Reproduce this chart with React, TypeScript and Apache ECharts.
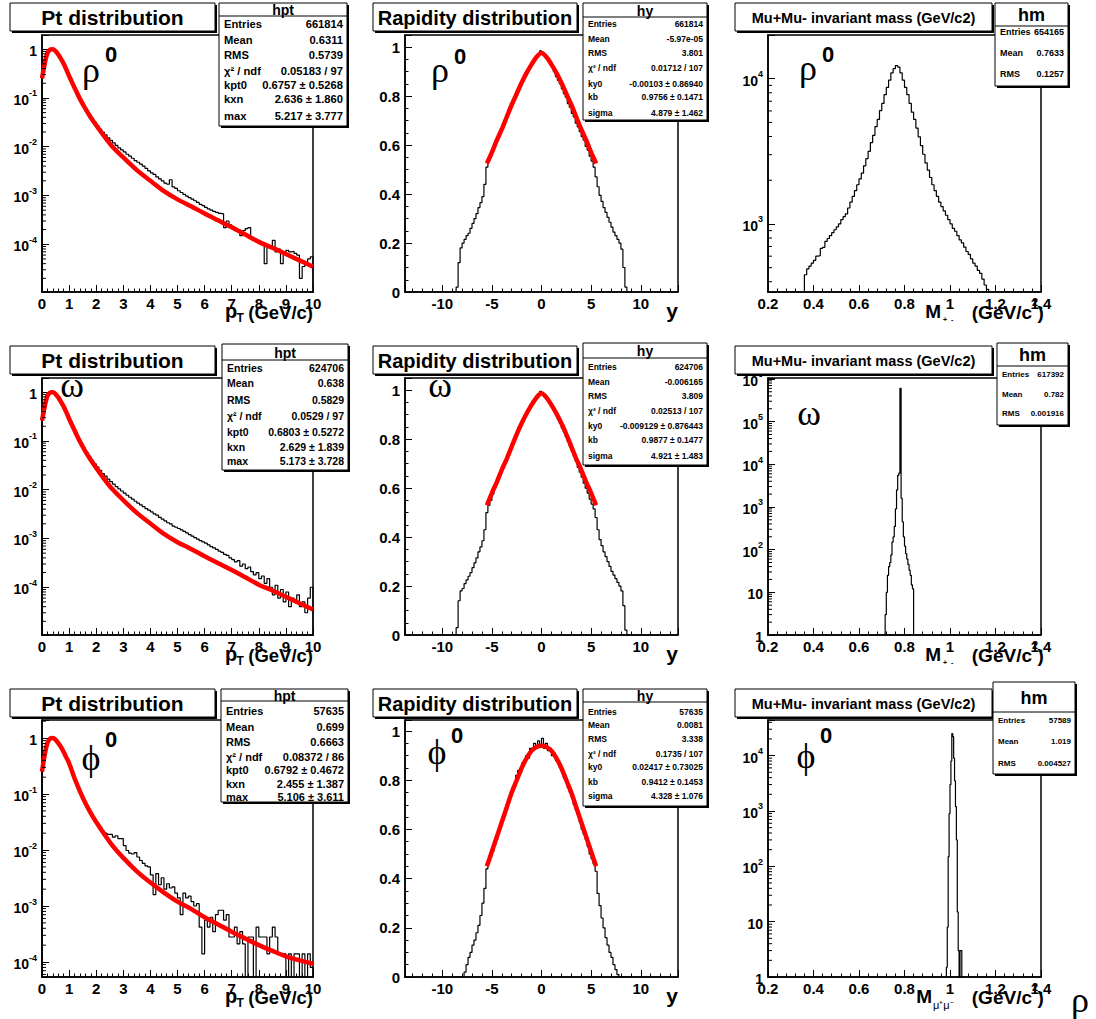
import React, { useEffect, useRef } from 'react';
import * as echarts from 'echarts';

const SANS = '"Liberation Sans", Arial, Helvetica, sans-serif';
const SERIF = '"Liberation Serif", "Times New Roman", serif';

// ---------------- DATA ----------------
// pT histograms: 100 bins of 0.1 GeV/c from 0 to 10 (normalised to peak)
const PT_START = 0;
const PT_WIDTH = 0.1;
const ptHistRho = [
  0.37, 0.66, 0.91, 1.0, 0.97, 0.85, 0.71, 0.57, 0.45, 0.335,
  0.25, 0.19, 0.145, 0.11, 0.088, 0.07, 0.056, 0.046, 0.038, 0.032,
  0.027, 0.023, 0.02, 0.0175, 0.0152, 0.0135, 0.012, 0.0106, 0.0095, 0.0086,
  0.0078, 0.007, 0.0064, 0.0058, 0.0052, 0.0048, 0.0044, 0.004, 0.0036, 0.0032,
  0.0029, 0.0027, 0.0024, 0.0022, 0.002, 0.0018, 0.0017, 0.0021, 0.0015, 0.0014,
  0.00125, 0.00115, 0.00105, 0.00097, 0.0009, 0.00084, 0.00078, 0.00072, 0.00066, 0.00062,
  0.00057, 0.00053, 0.0005, 0.00047, 0.00045, 0.00043, 0.00042, 0.00022, 0.0003, 0.00025,
  0.00021, 0.00019, 0.0002, 0.00015, 0.00019, 0.00021, 0.00022, 0.00014, 0.00013, 0.00012,
  0.000105, 0.0001, 0.00004, 0.00009, 0.000085, 0.00012, 0.00007, 0.00008, 0.00004, 0.00007,
  0.000075, 0.00007, 0.000072, 0.000065, 0.00006, 0.00002, 0.000035, 0.000038, 0.00005, 0.000055,
];
const ptHistOmega = [
  0.38, 0.67, 0.92, 1.0, 0.97, 0.86, 0.72, 0.58, 0.455, 0.34,
  0.255, 0.195, 0.148, 0.113, 0.09, 0.072, 0.058, 0.048, 0.04, 0.034,
  0.029, 0.025, 0.0215, 0.019, 0.0165, 0.0147, 0.013, 0.0116, 0.0104, 0.0094,
  0.0085, 0.0077, 0.007, 0.0064, 0.0058, 0.0053, 0.0049, 0.0045, 0.0041, 0.0038,
  0.0035, 0.0032, 0.003, 0.0027, 0.0025, 0.0023, 0.0021, 0.002, 0.0018, 0.0017,
  0.0016, 0.0015, 0.0014, 0.0013, 0.0012, 0.00112, 0.00104, 0.00097, 0.0009, 0.00085,
  0.0008, 0.00074, 0.00068, 0.00064, 0.0006, 0.00055, 0.00052, 0.00047, 0.00045, 0.0004,
  0.00037, 0.00033, 0.00035, 0.00027, 0.0003, 0.00024, 0.00026, 0.00021, 0.00018, 0.0002,
  0.00015, 0.00017, 0.00012, 0.00015, 0.0001, 0.00007, 0.00011, 0.00006, 0.00009, 0.00005,
  0.00008, 0.00004, 0.00006, 0.00005, 0.00007, 0.00004, 0.00005, 0.00003, 0.00006, 0.0001,
];
const ptHistPhi = [
  0.4, 0.7, 0.93, 1.0, 0.98, 0.88, 0.76, 0.63, 0.51, 0.4,
  0.31, 0.23, 0.17, 0.13, 0.1, 0.078, 0.061, 0.05, 0.042, 0.035,
  0.03, 0.026, 0.022, 0.02, 0.019, 0.019, 0.017, 0.018, 0.016, 0.016,
  0.012, 0.0098, 0.0088, 0.0085, 0.009, 0.0075, 0.0065, 0.0058, 0.0052, 0.005,
  0.0036, 0.0016, 0.0038, 0.0024, 0.0032, 0.002, 0.0025, 0.0021, 0.0022, 0.0017,
  0.0014, 0.0007, 0.0017, 0.0014, 0.0015, 0.0012, 0.001, 0.0011, 0.00042, 0.00014,
  0.00056, 0.00042, 0.00063, 0.00035, 0.0007, 0.00084, 0.00084, 0.00056, 0.0007, 0.00028,
  0.00028, 0.00042, 0.00021, 0.00035, 0.00021, 0, 0.00028, 0.00028, 0, 0.00042,
  0.00028, 0.00028, 0.00028, 0.00014, 0.00028, 0.00042, 0.00028, 0.00014, 0.00014, 0.00014,
  0, 0.00014, 0, 0.00014, 0.00014, 0, 0.00014, 0, 0.00014, 0.00008,
];
// pT fit curves
const ptFitX = [0, 0.1, 0.2, 0.3, 0.4, 0.5, 0.6, 0.7, 0.8, 0.9, 1.0, 1.2, 1.4, 1.6, 1.8, 2.0, 2.3, 2.6, 3.0, 3.5, 4.0, 4.5, 5.0, 5.5, 6.0, 6.5, 7.0, 7.5, 8.0, 8.5, 9.0, 9.5, 10];
const ptFitRho = [0.251, 0.501, 0.832, 0.977, 1.0, 0.912, 0.776, 0.631, 0.501, 0.38, 0.282, 0.162, 0.0955, 0.0603, 0.0398, 0.0275, 0.0162, 0.01, 0.00603, 0.00331, 0.002, 0.00123, 0.000832, 0.000603, 0.000427, 0.000309, 0.000224, 0.000158, 0.000112, 0.0000851, 0.0000631, 0.0000468, 0.0000347];
const ptFitOmega = [0.26, 0.51, 0.84, 0.98, 1.0, 0.915, 0.78, 0.635, 0.505, 0.385, 0.285, 0.165, 0.097, 0.061, 0.0405, 0.028, 0.0165, 0.0102, 0.0061, 0.00335, 0.00202, 0.00124, 0.00084, 0.00061, 0.00043, 0.00031, 0.000225, 0.00016, 0.000113, 0.000086, 0.000064, 0.000047, 0.000035];
const ptFitPhi = [0.251, 0.501, 0.813, 0.977, 1.0, 0.933, 0.813, 0.692, 0.562, 0.447, 0.355, 0.191, 0.112, 0.0692, 0.0457, 0.0316, 0.0191, 0.012, 0.00724, 0.00417, 0.00263, 0.00174, 0.0012, 0.000891, 0.000631, 0.000468, 0.000347, 0.000263, 0.0002, 0.000158, 0.000126, 0.000107, 0.0000933];

// rapidity histograms: 88 bins of 0.2 from -8.8 to 8.8
const Y_START = -8.8;
const Y_WIDTH = 0.2;
const yHistRho = [
  0.0, 0.02, 0.12, 0.18, 0.2, 0.215, 0.23, 0.24, 0.26, 0.28, 0.3, 0.32, 0.345, 0.365, 0.39, 0.44,
  0.51, 0.535, 0.555, 0.58, 0.6, 0.62, 0.64, 0.655, 0.675, 0.695, 0.715, 0.735, 0.755, 0.775,
  0.79, 0.81, 0.83, 0.845, 0.865, 0.88, 0.895, 0.91, 0.925, 0.935, 0.95, 0.96, 0.97, 0.985,
  0.98, 0.97, 0.955, 0.95, 0.93, 0.92, 0.9, 0.88, 0.865, 0.85, 0.83, 0.81, 0.795, 0.77, 0.755,
  0.73, 0.715, 0.69, 0.675, 0.655, 0.635, 0.62, 0.595, 0.58, 0.555, 0.535, 0.51, 0.47, 0.43,
  0.395, 0.37, 0.345, 0.325, 0.305, 0.285, 0.265, 0.245, 0.23, 0.215, 0.2, 0.175, 0.1, 0.02, 0.0,
];
const yHistOmega = [
  0.0, 0.03, 0.14, 0.18, 0.19, 0.21, 0.225, 0.24, 0.255, 0.275, 0.295, 0.315, 0.34, 0.36, 0.385,
  0.43, 0.5, 0.53, 0.55, 0.575, 0.6, 0.62, 0.64, 0.66, 0.68, 0.705, 0.725, 0.745, 0.765, 0.785,
  0.805, 0.825, 0.845, 0.86, 0.875, 0.895, 0.91, 0.925, 0.94, 0.955, 0.965, 0.975, 0.985, 0.995,
  0.99, 0.98, 0.97, 0.96, 0.945, 0.93, 0.915, 0.9, 0.88, 0.865, 0.845, 0.83, 0.81, 0.79, 0.77,
  0.75, 0.73, 0.71, 0.685, 0.665, 0.645, 0.62, 0.6, 0.58, 0.555, 0.535, 0.515, 0.48, 0.43, 0.39,
  0.365, 0.34, 0.32, 0.3, 0.28, 0.26, 0.245, 0.23, 0.215, 0.2, 0.18, 0.12, 0.02, 0.0,
];
const yHistPhi = [
  0, 0, 0, 0, 0, 0.02, 0.05, 0.08, 0.1, 0.13, 0.15, 0.18, 0.21, 0.25, 0.3, 0.36, 0.44, 0.47, 0.49,
  0.51, 0.54, 0.56, 0.59, 0.62, 0.64, 0.67, 0.7, 0.71, 0.74, 0.77, 0.78, 0.82, 0.84, 0.83, 0.87,
  0.88, 0.9, 0.89, 0.93, 0.92, 0.95, 0.93, 0.96, 0.94,
  0.97, 0.93, 0.95, 0.92, 0.93, 0.9, 0.91, 0.88, 0.87, 0.85, 0.84, 0.81, 0.8, 0.77, 0.75, 0.73,
  0.7, 0.68, 0.66, 0.63, 0.6, 0.58, 0.56, 0.53, 0.5, 0.48, 0.46, 0.43, 0.34, 0.29, 0.24, 0.2,
  0.16, 0.13, 0.1, 0.08, 0.05, 0.03, 0.01, 0, 0, 0, 0, 0,
];
const yFitX = [-5.5, -5, -4.5, -4, -3.5, -3, -2.5, -2, -1.5, -1, -0.5, 0, 0.5, 1, 1.5, 2, 2.5, 3, 3.5, 4, 4.5, 5, 5.5];
const yFitRho = [0.525, 0.57, 0.62, 0.665, 0.715, 0.765, 0.81, 0.855, 0.895, 0.93, 0.96, 0.976, 0.96, 0.93, 0.895, 0.855, 0.81, 0.765, 0.715, 0.665, 0.62, 0.57, 0.525];
const yFitOmega = [0.53, 0.58, 0.625, 0.675, 0.72, 0.77, 0.82, 0.865, 0.905, 0.94, 0.97, 0.988, 0.97, 0.94, 0.905, 0.865, 0.82, 0.77, 0.72, 0.675, 0.625, 0.58, 0.53];
const yFitPhi = [0.45, 0.51, 0.57, 0.63, 0.69, 0.75, 0.8, 0.85, 0.89, 0.92, 0.935, 0.94, 0.935, 0.92, 0.89, 0.85, 0.8, 0.75, 0.69, 0.63, 0.57, 0.51, 0.45];

// invariant-mass histograms (counts)
const M_RHO_START = 0.36;
const M_RHO_WIDTH = 0.01;
const mHistRho = [
  447, 490, 513, 537, 562, 600, 605, 680, 690, 759,
  794, 832, 871, 912, 955, 1000, 1072, 1122, 1175, 1288,
  1413, 1549, 1698, 1862, 2042, 2239, 2512, 2818, 3162, 3631,
  4074, 4677, 5248, 6026, 6761, 7762, 8710, 9772, 10965, 11749,
  12303, 12023, 10965, 9772, 8710, 7762, 6761, 5888, 5248, 4571,
  3981, 3467, 3020, 2630, 2344, 2089, 1862, 1698, 1549, 1413,
  1318, 1230, 1148, 1072, 1000, 933, 891, 832, 776, 741,
  692, 646, 617, 575, 537, 513, 479, 457, 417, 380, 355,
];
const M_OMEGA_START = 0.715;
const M_OMEGA_WIDTH = 0.005;
const mHistOmega = [3, 10, 25, 40, 50, 75, 150, 200, 350, 900, 2500, 5500, 6200, 600000, 1600, 450, 200, 120, 80, 60, 45, 33, 25, 15, 12, 0];
const M_PHI_START = 0.984;
const M_PHI_WIDTH = 0.004;
const mHistPhi = [1.5, 8, 150, 900, 3000, 8000, 25000, 22000, 9000, 3500, 1200, 300, 15, 3, 0, 3, 3, 0];

// stat boxes
const statPt = [
  [['Entries', '661814'], ['Mean', '0.6311'], ['RMS', '0.5739'], ['χ² / ndf', '0.05183 / 97'], ['kpt0', '0.6757 ± 0.5268'], ['kxn', '2.636 ± 1.860'], ['max', '5.217 ± 3.777']],
  [['Entries', '624706'], ['Mean', '0.638'], ['RMS', '0.5829'], ['χ² / ndf', '0.0529 / 97'], ['kpt0', '0.6803 ± 0.5272'], ['kxn', '2.629 ± 1.839'], ['max', '5.173 ± 3.728']],
  [['Entries', '57635'], ['Mean', '0.699'], ['RMS', '0.6663'], ['χ² / ndf', '0.08372 / 86'], ['kpt0', '0.6792 ± 0.4672'], ['kxn', '2.455 ± 1.387'], ['max', '5.106 ± 3.611']],
];
const statY = [
  [['Entries', '661814'], ['Mean', '-5.97e-05'], ['RMS', '3.801'], ['χ² / ndf', '0.01712 / 107'], ['ky0', '-0.00103 ± 0.86940'], ['kb', '0.9756 ± 0.1471'], ['sigma', '4.879 ± 1.462']],
  [['Entries', '624706'], ['Mean', '-0.006165'], ['RMS', '3.809'], ['χ² / ndf', '0.02513 / 107'], ['ky0', '-0.009129 ± 0.876443'], ['kb', '0.9877 ± 0.1477'], ['sigma', '4.921 ± 1.483']],
  [['Entries', '57635'], ['Mean', '0.0081'], ['RMS', '3.338'], ['χ² / ndf', '0.1735 / 107'], ['ky0', '0.02417 ± 0.73025'], ['kb', '0.9412 ± 0.1453'], ['sigma', '4.328 ± 1.076']],
];
const statM = [
  [['Entries', '654165'], ['Mean', '0.7633'], ['RMS', '0.1257']],
  [['Entries', '617392'], ['Mean', '0.782'], ['RMS', '0.001916']],
  [['Entries', '57589'], ['Mean', '1.019'], ['RMS', '0.004527']],
];
const statNames = ['hpt', 'hy', 'hm'];
const titles = ['Pt distribution', 'Rapidity distribution', 'Mu+Mu- invariant mass (GeV/c2)'];
const particles = [['ρ', '0'], ['ω', ''], ['ϕ', '0']];

// ---------------- LAYOUT ----------------
const COL_LEFT = [42, 405, 768];
const COL_W = [271, 273, 273];
const ROW_TOP = [35, 378, 720];
const ROW_H = 257;
const TITLE_BOX = [
  { x: 10, w: 205, fs: 21 },
  { x: 373, w: 204, fs: 20 },
  { x: 735, w: 257, fs: 14.5 },
];
const TITLE_TOP = [3, 346, 689];
const STAT_BOX = [
  [
    { x: 219, y: 3, w: 128, h: 123, line: 16, rows: [24, 40, 55, 71, 85, 99, 116], fs: 11.2, hfs: 14 },
    { x: 583, y: 3, w: 124, h: 117, line: 17, rows: [24, 39, 53, 68, 84, 97, 113], fs: 8.5, hfs: 14 },
    { x: 995, y: 3, w: 73, h: 83, line: 26, rows: [32, 53, 74], fs: 9, hfs: 18 },
  ],
  [
    { x: 222, y: 344, w: 126, h: 126, line: 360, rows: [368, 383, 400, 416, 432, 447, 461], fs: 10.5, hfs: 14 },
    { x: 583, y: 343, w: 124, h: 122, line: 358, rows: [367, 382, 396, 411, 426, 440, 456], fs: 8.5, hfs: 14 },
    { x: 997, y: 343, w: 71, h: 82, line: 366, rows: [374, 394, 413], fs: 8, hfs: 18 },
  ],
  [
    { x: 221, y: 689, w: 127, h: 113, line: 701, rows: [711, 727, 742, 757, 770, 784, 797], fs: 11, hfs: 14 },
    { x: 583, y: 689, w: 124, h: 117, line: 702, rows: [712, 725, 739, 754, 767, 782, 796], fs: 8.5, hfs: 14 },
    { x: 993, y: 682, w: 82, h: 92, line: 712, rows: [720, 741, 763], fs: 8, hfs: 18 },
  ],
];
const PARTICLE_POS = [
  [{ x: 91, y: 70, sx: 105, sy: 54 }, { x: 440, y: 70, sx: 454, sy: 56 }, { x: 808, y: 68, sx: 822, sy: 54 }],
  [{ x: 72, y: 385, sx: 0, sy: 0 }, { x: 440, y: 385, sx: 0, sy: 0 }, { x: 809, y: 413, sx: 0, sy: 0 }],
  [{ x: 91, y: 758, sx: 105, sy: 739 }, { x: 437, y: 752, sx: 451, sy: 735 }, { x: 806, y: 756, sx: 820, sy: 735 }],
];

// axis ranges per row
const PT_Y = [[1.05e-5, 1.95], [1.05e-5, 1.95], [5.4e-5, 2.1]];
const RAP_Y_MAX = [1.05, 1.05, 1.045];
const M_Y = [[340, 2.0e4], [1, 1.05e6], [1, 4.4e4]];

function histPoints(values: number[], start: number, width: number, floorVal: number) {
  const f = (v: number) => (v <= 0 ? floorVal : v);
  const pts: number[][] = [[start, floorVal]];
  values.forEach((v, i) => pts.push([+(start + i * width).toFixed(6), f(v)]));
  const end = +(start + values.length * width).toFixed(6);
  pts.push([end, f(values[values.length - 1])]);
  pts.push([end, floorVal]);
  return pts;
}
function curvePoints(xs: number[], ys: number[]) {
  return xs.map((x, i) => [x, ys[i]]);
}
// minor tick positions (2..9 x 10^n) of a log axis inside [lo, hi]
function logMinorValues(lo: number, hi: number) {
  const out: number[] = [];
  for (let e = Math.floor(Math.log10(lo)); e <= Math.ceil(Math.log10(hi)); e++) {
    for (let k = 2; k <= 9; k++) {
      const v = k * Math.pow(10, e);
      if (v > lo && v < hi) out.push(v);
    }
  }
  return out;
}

function txt(x: number, y: number, text: string, size: number, o: any = {}) {
  const align = o.align || 'left';
  const valign = o.valign || 'middle';
  return {
    type: 'text',
    x,
    y,
    z: 102,
    silent: true,
    style: {
      text,
      fill: '#000',
      fontSize: size,
      fontWeight: o.weight || 'bold',
      fontFamily: o.family || SANS,
      align,
      verticalAlign: valign,
      textAlign: align,
      textVerticalAlign: valign,
    },
  };
}
function shadowBox(x: number, y: number, w: number, h: number) {
  return [
    { type: 'rect', z: 99, silent: true, shape: { x: x + 2, y: y + 2, width: w, height: h }, style: { fill: '#000' } },
    { type: 'rect', z: 100, silent: true, shape: { x, y, width: w, height: h }, style: { fill: '#fff', stroke: '#000', lineWidth: 1 } },
  ];
}

const logLabel = (v: number) => {
  const l = Math.log10(v);
  const e = Math.round(l);
  if (Math.abs(l - e) > 1e-6) return '';
  if (e === 0) return '{b|1}';
  if (e === 1) return '{b|10}';
  return '{b|10}{e|' + e + '}';
};
const logRich = {
  b: { fontSize: 14, fontWeight: 'bold', fontFamily: SANS, color: '#000', lineHeight: 18, verticalAlign: 'bottom' },
  e: { fontSize: 9, fontWeight: 'bold', fontFamily: SANS, color: '#000', lineHeight: 9, verticalAlign: 'top' },
};

function minorLogSeries(p: number, xMin: number, lo: number, hi: number) {
  return {
    type: 'custom',
    xAxisIndex: p,
    yAxisIndex: p,
    silent: true,
    z: 4,
    data: logMinorValues(lo, hi).map((v) => [xMin, v]),
    renderItem: (params: any, api: any) => {
      const pt = api.coord([api.value(0), api.value(1)]);
      return {
        type: 'line',
        shape: { x1: pt[0], y1: pt[1], x2: pt[0] + 4, y2: pt[1] },
        style: { stroke: '#000', lineWidth: 1 },
      };
    },
  };
}

function buildOption() {
  const grid: any[] = [];
  const xAxis: any[] = [];
  const yAxis: any[] = [];
  const series: any[] = [];
  const graphic: any[] = [];

  const axisLine = { show: true, onZero: false, lineStyle: { color: '#000', width: 1.5 } };
  const axisTick = { show: true, inside: true, length: 7, lineStyle: { color: '#000', width: 1 } };
  const minorTick = { show: true, splitNumber: 5, length: 3.5, lineStyle: { color: '#000', width: 1 } };
  const lab = { color: '#000', fontFamily: SANS, fontWeight: 'bold', fontSize: 15 };

  const ptHists = [ptHistRho, ptHistOmega, ptHistPhi];
  const ptFits = [ptFitRho, ptFitOmega, ptFitPhi];
  const yHists = [yHistRho, yHistOmega, yHistPhi];
  const yFits = [yFitRho, yFitOmega, yFitPhi];
  const mHists = [
    { v: mHistRho, s: M_RHO_START, w: M_RHO_WIDTH },
    { v: mHistOmega, s: M_OMEGA_START, w: M_OMEGA_WIDTH },
    { v: mHistPhi, s: M_PHI_START, w: M_PHI_WIDTH },
  ];

  for (let r = 0; r < 3; r++) {
    for (let c = 0; c < 3; c++) {
      const p = r * 3 + c;
      grid.push({
        left: COL_LEFT[c], top: ROW_TOP[r], width: COL_W[c], height: ROW_H,
        show: true, borderColor: '#000', borderWidth: 1.5, backgroundColor: 'transparent',
      });
      const base = { gridIndex: p, axisLine, axisTick, splitLine: { show: false } };
      if (c === 0) {
        xAxis.push({ ...base, type: 'value', min: 0, max: 10, interval: 1, minorTick, axisLabel: { ...lab, margin: 4 } });
        yAxis.push({
          ...base, type: 'log', logBase: 10, min: PT_Y[r][0], max: PT_Y[r][1],
          axisLabel: { margin: 5, formatter: logLabel, rich: logRich },
        });
        series.push({
          type: 'line', xAxisIndex: p, yAxisIndex: p, step: 'end', symbol: 'none', silent: true, z: 2,
          lineStyle: { color: '#000', width: 1.2 }, data: histPoints(ptHists[r], PT_START, PT_WIDTH, 1e-9),
        });
        series.push({
          type: 'line', xAxisIndex: p, yAxisIndex: p, smooth: 0.3, symbol: 'none', silent: true, z: 3,
          lineStyle: { color: '#ff0000', width: 4.5 }, data: curvePoints(ptFitX, ptFits[r]),
        });
        series.push(minorLogSeries(p, 0, PT_Y[r][0], PT_Y[r][1]));
      } else if (c === 1) {
        xAxis.push({
          ...base, type: 'value', min: -13.75, max: 13.75, minorTick,
          axisLabel: { ...lab, margin: 4, formatter: (v: number) => (Math.abs(v / 5 - Math.round(v / 5)) < 1e-6 ? String(Math.round(v)) : '') },
        });
        yAxis.push({
          ...base, type: 'value', min: 0, max: RAP_Y_MAX[r], interval: 0.2, minorTick: { ...minorTick, splitNumber: 4 },
          axisLabel: { ...lab, margin: 5, formatter: (v: number) => (Math.abs(v / 0.2 - Math.round(v / 0.2)) < 1e-6 ? String(+v.toFixed(1)) : '') },
        });
        series.push({
          type: 'line', xAxisIndex: p, yAxisIndex: p, step: 'end', symbol: 'none', silent: true, z: 2,
          lineStyle: { color: '#000', width: 1.2 }, data: histPoints(yHists[r], Y_START, Y_WIDTH, 0),
        });
        series.push({
          type: 'line', xAxisIndex: p, yAxisIndex: p, smooth: 0.3, symbol: 'none', silent: true, z: 3,
          lineStyle: { color: '#ff0000', width: 4.5 }, data: curvePoints(yFitX, yFits[r]),
        });
      } else {
        xAxis.push({ ...base, type: 'value', min: 0.2, max: 1.4, interval: 0.2, minorTick, axisLabel: { ...lab, margin: 4 } });
        yAxis.push({
          ...base, type: 'log', logBase: 10, min: M_Y[r][0], max: M_Y[r][1],
          axisLabel: { margin: 5, formatter: logLabel, rich: logRich },
        });
        const mh = mHists[r];
        series.push({
          type: 'line', xAxisIndex: p, yAxisIndex: p, step: 'end', symbol: 'none', silent: true, z: 2,
          lineStyle: { color: '#000', width: 1.2 }, data: histPoints(mh.v, mh.s, mh.w, 1e-3),
        });
        series.push(minorLogSeries(p, 0.2, M_Y[r][0], M_Y[r][1]));
      }

      // title box
      const tb = TITLE_BOX[c];
      graphic.push(...shadowBox(tb.x, TITLE_TOP[r], tb.w, 28));
      graphic.push(txt(tb.x + tb.w / 2, TITLE_TOP[r] + 14.5, titles[c], tb.fs, { align: 'center' }));

      // stat box
      const sb = STAT_BOX[r][c];
      const rows = c === 0 ? statPt[r] : c === 1 ? statY[r] : statM[r];
      graphic.push(...shadowBox(sb.x, sb.y, sb.w, sb.h));
      graphic.push({ type: 'line', z: 101, silent: true, shape: { x1: sb.x, y1: sb.line, x2: sb.x + sb.w, y2: sb.line }, style: { stroke: '#000', lineWidth: 1 } });
      graphic.push(txt(sb.x + sb.w / 2, (sb.y + sb.line) / 2 + 0.5, statNames[c], sb.hfs, { align: 'center' }));
      rows.forEach((row, i) => {
        graphic.push(txt(sb.x + 5, sb.rows[i], row[0], sb.fs));
        graphic.push(txt(sb.x + sb.w - 4, sb.rows[i], row[1], sb.fs, { align: 'right' }));
      });

      // particle label
      const pp = PARTICLE_POS[r][c];
      graphic.push(txt(pp.x, pp.y, particles[r][0], 36, { align: 'center', weight: 'normal', family: SERIF }));
      if (particles[r][1]) graphic.push(txt(pp.sx, pp.sy, particles[r][1], 22, { align: 'left' }));

      // axis titles
      const B = ROW_TOP[r] + ROW_H;
      if (c === 0) {
        graphic.push(txt(225, B + 19, 'p', 20));
        graphic.push(txt(236.5, B + 26, 'T', 12));
        graphic.push(txt(313, B + 20, '(GeV/c)', 18.5, { align: 'right' }));
      } else if (c === 1) {
        graphic.push(txt(678, B + 18, 'y', 21, { align: 'right' }));
      } else {
        if (r < 2) {
          graphic.push(txt(941, B + 19, 'M', 19, { align: 'right' }));
          graphic.push(txt(943, B + 27, '+  -', 7));
        } else {
          graphic.push(txt(932, B + 19, 'M', 19, { align: 'right' }));
          graphic.push(txt(933, B + 28, 'μ⁺μ⁻', 11, { weight: 'normal' }));
        }
        graphic.push(txt(1032, B + 20, '(GeV/c', 19, { align: 'right' }));
        graphic.push(txt(1032, B + 10, '2', 11));
        graphic.push(txt(1037.5, B + 20, ')', 19));
      }
    }
  }
  graphic.push(txt(1080, 1000, 'ρ', 36, { align: 'center', weight: 'normal', family: SERIF }));

  return {
    animation: false,
    backgroundColor: '#fff',
    grid,
    xAxis,
    yAxis,
    series,
    graphic: { elements: graphic },
  };
}

export default function App() {
  const ref = useRef<HTMLDivElement>(null);
  useEffect(() => {
    document.body.style.margin = '0';
    const chart = echarts.init(ref.current as HTMLDivElement, null, { renderer: 'svg' });
    chart.setOption(buildOption() as any);
    return () => chart.dispose();
  }, []);
  return <div ref={ref} style={{ width: 1096, height: 1019, background: '#fff' }} />;
}
